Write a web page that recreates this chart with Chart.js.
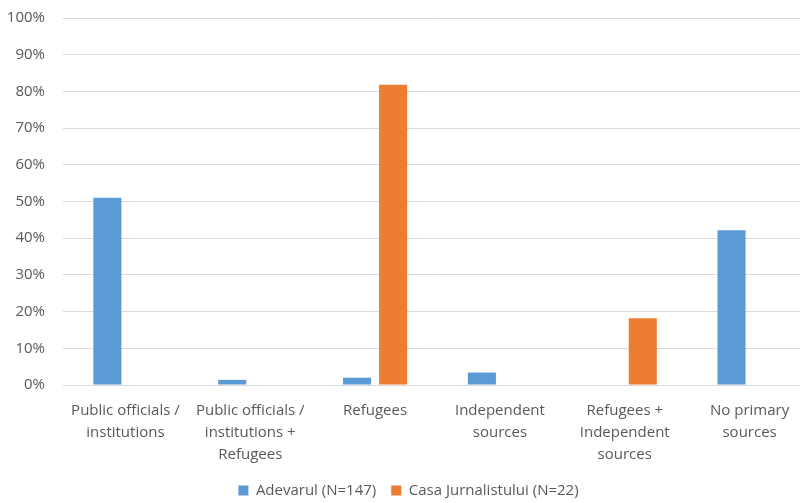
<!DOCTYPE html>
<html>
<head>
<meta charset="utf-8">
<script src="https://cdn.jsdelivr.net/npm/chart.js@4/dist/chart.umd.min.js"></script>
<style>
  html, body { margin: 0; padding: 0; background: #fff; overflow: hidden; }
  #wrap { width: 812px; height: 508px; }
</style>
</head>
<body>
<div id="wrap"><canvas id="c" width="812" height="508"></canvas></div>
<script>
// Share of articles by primary source type, per outlet (%)
const categories = [
  ["Public officials /", "institutions"],
  ["Public officials /", "institutions +", "Refugees"],
  ["Refugees"],
  ["Independent", "sources"],
  ["Refugees +", "Independent", "sources"],
  ["No primary", "sources"]
];
const seriesNames = ["Adevarul (N=147)", "Casa Jurnalistului (N=22)"];
const adevarul = [51.0, 1.4, 2.0, 3.4, 0, 42.2];
const casaJurnalistului = [0, 0, 81.8, 0, 18.2, 0];
const yTicks = [0, 10, 20, 30, 40, 50, 60, 70, 80, 90, 100];

const textColor = "#595959";
const fontFamily = "'Open Sans', Lato, sans-serif";

new Chart(document.getElementById("c"), {
  type: "bar",
  data: {
    labels: categories,
    datasets: [
      { label: seriesNames[0], data: adevarul, backgroundColor: "#5b9bd5",
        categoryPercentage: 0.578, barPercentage: 0.778 },
      { label: seriesNames[1], data: casaJurnalistului, backgroundColor: "#ed7d31",
        categoryPercentage: 0.578, barPercentage: 0.778 }
    ]
  },
  options: {
    responsive: false,
    animation: false,
    layout: { padding: { top: 18, left: 5, right: 0, bottom: 0 } },
    plugins: {
      legend: {
        position: "bottom",
        labels: {
          color: textColor,
          font: { family: fontFamily, size: 15 },
          boxWidth: 10, boxHeight: 10, padding: 15
        }
      },
      tooltip: { enabled: false }
    },
    scales: {
      x: {
        grid: { display: false },
        border: { color: "#d9d9d9", width: 1 },
        ticks: {
          color: textColor,
          font: { family: fontFamily, size: 15, lineHeight: 1.45 },
          maxRotation: 0, autoSkip: false, padding: 7
        },
        afterFit: (axis) => { axis.paddingLeft = 0; axis.paddingRight = 0; axis.height = 83; }
      },
      y: {
        min: 0, max: 100,
        afterBuildTicks: (axis) => { axis.ticks = yTicks.map(v => ({ value: v })); },
        grid: { color: "#d9d9d9", lineWidth: 1, drawTicks: false },
        border: { display: false },
        ticks: {
          color: textColor,
          font: { family: fontFamily, size: 15 },
          padding: 18,
          callback: (v) => v + "%"
        },
        afterFit: (axis) => { axis.paddingTop = 0; axis.paddingBottom = 0; axis.width = 58; }
      }
    }
  }
});
</script>
</body>
</html>
